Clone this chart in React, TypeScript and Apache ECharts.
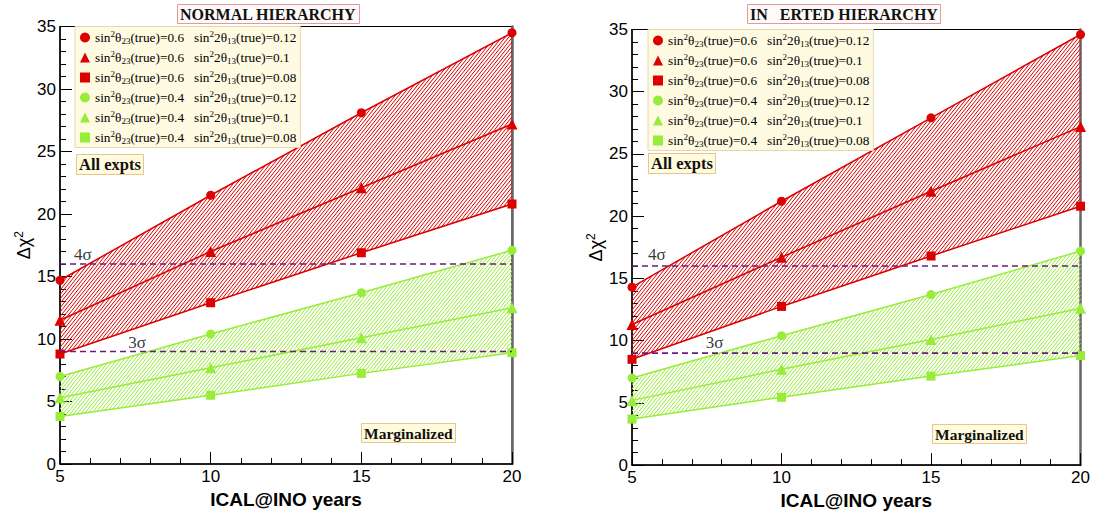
import React, { useEffect, useRef } from "react";
import * as echarts from "echarts";

// ICAL@INO exposure (years)
const years = [5, 10, 15, 20];

// Normal hierarchy, Δχ² per exposure
const nhRedCircle = [14.7, 21.5, 28.1, 34.5];
const nhRedTriangle = [11.5, 17.0, 22.1, 27.2];
const nhRedSquare = [8.8, 12.9, 16.9, 20.8];
const nhGreenCircle = [7.0, 10.4, 13.7, 17.1];
const nhGreenTriangle = [5.3, 7.7, 10.1, 12.5];
const nhGreenSquare = [3.8, 5.5, 7.25, 8.9];

// Inverted hierarchy, Δχ² per exposure
const ihRedCircle = [14.3, 21.2, 27.9, 34.6];
const ihRedTriangle = [11.3, 16.7, 22.0, 27.2];
const ihRedSquare = [8.5, 12.75, 16.8, 20.8];
const ihGreenCircle = [7.0, 10.4, 13.7, 17.2];
const ihGreenTriangle = [5.2, 7.7, 10.1, 12.6];
const ihGreenSquare = [3.7, 5.45, 7.15, 8.8];

// Legend entries
const th23Values = ["0.6", "0.6", "0.6", "0.4", "0.4", "0.4"];
const th13Values = ["0.12", "0.1", "0.08", "0.12", "0.1", "0.08"];
const seriesNames = th23Values.map((a, i) => `s23=${a} s13=${th13Values[i]}`);
const symbols = ["circle", "triangle", "rect", "circle", "triangle", "rect"];

// Significance thresholds
const sigmaLevels = [16, 9];
const sigmaNames = ["4σ", "3σ"];
const nhSigmaLabelPos = [[5.76, 16.8], [7.56, 9.76]];
const ihSigmaLabelPos = [[5.83, 16.96], [7.76, 9.84]];

const RED = "#dc0000";
const GREEN = "#98ec3a";
const PURPLE = "#6a1b7c";
const SERIF = "'Liberation Serif', 'Times New Roman', serif";
const SANS = "'Liberation Sans', Arial, sans-serif";

function posInterval(f: (x: number) => number, lo: number, hi: number): number[] | null {
  const fl = f(lo);
  const fh = f(hi);
  if (fl >= 0 && fh >= 0) return [lo, hi];
  if (fl < 0 && fh < 0) return null;
  const r = lo + ((hi - lo) * fl) / (fl - fh);
  return fl >= 0 ? [lo, r] : [r, hi];
}

// Hatched band between an upper and a lower curve
function hatchBand(xIdx: number, yIdx: number, top: number[], bot: number[], color: string) {
  return {
    type: "custom",
    xAxisIndex: xIdx,
    yAxisIndex: yIdx,
    silent: true,
    clip: false,
    z: 1,
    data: [[years[0], bot[0]]],
    renderItem: (_params: any, api: any) => {
      const T = years.map((x, i) => api.coord([x, top[i]]));
      const B = years.map((x, i) => api.coord([x, bot[i]]));
      const k = 1.25; // slope of hatch lines
      const step = 4.4;
      const sums = [...T, ...B].map((p) => p[1] + k * p[0]);
      const cMin = Math.min(...sums);
      const cMax = Math.max(...sums);
      const children: any[] = [];
      for (let c = Math.ceil(cMin / step) * step; c <= cMax; c += step) {
        for (let i = 0; i < T.length - 1; i++) {
          const x0 = T[i][0];
          const x1 = T[i + 1][0];
          const yT = (x: number) => T[i][1] + ((T[i + 1][1] - T[i][1]) * (x - x0)) / (x1 - x0);
          const yB = (x: number) => B[i][1] + ((B[i + 1][1] - B[i][1]) * (x - x0)) / (x1 - x0);
          const iv1 = posInterval((x) => c - k * x - yT(x), x0, x1);
          const iv2 = posInterval((x) => yB(x) - (c - k * x), x0, x1);
          if (!iv1 || !iv2) continue;
          const a = Math.max(iv1[0], iv2[0]);
          const b = Math.min(iv1[1], iv2[1]);
          if (b - a < 0.05) continue;
          children.push({
            type: "line",
            shape: { x1: a, y1: c - k * a, x2: b, y2: c - k * b },
            style: { stroke: color, lineWidth: 1 },
          });
        }
      }
      return { type: "group", children };
    },
  };
}

function panelSeries(xIdx: number, yIdx: number, sets: number[][], labelPos: number[][]) {
  const colors = [RED, RED, RED, GREEN, GREEN, GREEN];
  const out: any[] = [
    hatchBand(xIdx, yIdx, sets[0], sets[2], RED),
    hatchBand(xIdx, yIdx, sets[3], sets[5], GREEN),
  ];
  sets.forEach((vals, i) => {
    out.push({
      type: "line",
      name: seriesNames[i],
      xAxisIndex: xIdx,
      yAxisIndex: yIdx,
      data: years.map((x, j) => [x, vals[j]]),
      symbol: symbols[i],
      symbolSize: symbols[i] === "triangle" ? 11 : 9,
      lineStyle: { color: colors[i], width: 1.5 },
      itemStyle: { color: colors[i] },
      clip: false,
      z: 3,
    });
  });
  sigmaLevels.forEach((lvl, i) => {
    out.push({
      type: "line",
      xAxisIndex: xIdx,
      yAxisIndex: yIdx,
      data: [[years[0], lvl], [years[years.length - 1], lvl]],
      symbol: "none",
      lineStyle: { color: PURPLE, width: 1.6, type: [6, 4] },
      silent: true,
      z: 4,
    });
    out.push({
      type: "scatter",
      xAxisIndex: xIdx,
      yAxisIndex: yIdx,
      data: [labelPos[i]],
      symbolSize: 0,
      silent: true,
      label: {
        show: true,
        position: "inside",
        formatter: sigmaNames[i],
        fontFamily: SERIF,
        fontSize: 17,
        color: "#000",
      },
      z: 5,
    });
  });
  return out;
}

function xAxisCfg(gridIndex: number) {
  return {
    gridIndex,
    type: "value",
    min: 5,
    max: 20,
    interval: 5,
    axisLine: { onZero: false, lineStyle: { color: "#000", width: 1.5 } },
    axisTick: { inside: true, length: 12, lineStyle: { color: "#000", width: 1 } },
    minorTick: { show: true, splitNumber: 5, length: 6, lineStyle: { color: "#000", width: 1 } },
    splitLine: { show: false },
    axisLabel: { fontFamily: SANS, fontSize: 17, color: "#000", margin: 4 },
    name: "ICAL@INO years",
    nameLocation: "middle",
    nameGap: 24,
    nameTextStyle: { fontFamily: SANS, fontWeight: "bold", fontSize: 19, color: "#000" },
  };
}

function yAxisCfg(gridIndex: number) {
  return {
    gridIndex,
    type: "value",
    position: "left",
    min: 0,
    max: 35,
    interval: 5,
    axisLine: { show: true, onZero: false, lineStyle: { color: "#000", width: 1.5 } },
    axisTick: { inside: true, length: 12, lineStyle: { color: "#000", width: 1 } },
    minorTick: { show: true, splitNumber: 5, length: 6, lineStyle: { color: "#000", width: 1 } },
    splitLine: { show: false },
    axisLabel: { fontFamily: SANS, fontSize: 17, color: "#000", margin: 4 },
    name: "{a|Δχ}{b|2}",
    nameLocation: "middle",
    nameGap: 20,
    nameTextStyle: {
      fontFamily: SANS,
      fontSize: 18,
      color: "#000",
      rich: {
        a: { fontFamily: SANS, fontSize: 18, color: "#000", lineHeight: 22 },
        b: { fontFamily: SANS, fontSize: 12, color: "#000", verticalAlign: "top", lineHeight: 22 },
      },
    },
  };
}

function rightEdgeAxis(gridIndex: number) {
  return {
    gridIndex,
    type: "value",
    position: "right",
    min: 0,
    max: 35,
    axisLine: { show: true, onZero: false, lineStyle: { color: "#666", width: 2.5 } },
    axisTick: { show: false },
    axisLabel: { show: false },
    splitLine: { show: false },
  };
}

function legendCfg(left: number, top: number) {
  return {
    left,
    top,
    orient: "vertical",
    itemWidth: 10,
    itemHeight: 10,
    itemGap: 4,
    selectedMode: false,
    data: seriesNames.map((n, i) => ({ name: n, icon: symbols[i] })),
    formatter: (name: string) => {
      const i = seriesNames.indexOf(name);
      return `sin{sp|2}θ{sb|23}(true)=${th23Values[i]}   sin{sp|2}2θ{sb|13}(true)=${th13Values[i]}`;
    },
    textStyle: {
      fontFamily: SERIF,
      fontSize: 13.3,
      color: "#000",
      lineHeight: 16,
      rich: {
        sp: { fontFamily: SERIF, fontSize: 9, color: "#000", verticalAlign: "top" },
        sb: { fontFamily: SERIF, fontSize: 9, color: "#000", verticalAlign: "bottom" },
      },
    },
    backgroundColor: "#fffbe2",
    borderColor: "#e8d6a6",
    borderWidth: 1,
    padding: [3, 4, 2, 5],
  };
}

function boxTitle(text: string, left: number, top: number, size: number, bg: string, border: string) {
  return {
    text,
    left,
    top,
    padding: [2, 3, 1, 3],
    backgroundColor: bg,
    borderColor: border,
    borderWidth: 1,
    textStyle: {
      fontFamily: SERIF,
      fontWeight: "bold",
      fontSize: size,
      color: "#111",
      lineHeight: size + 1,
    },
  };
}

export default function App() {
  const ref = useRef<HTMLDivElement>(null);

  useEffect(() => {
    document.body.style.margin = "0";
    if (!ref.current) return;
    const chart = echarts.init(ref.current, null, { renderer: "svg" });
    const nhSets = [nhRedCircle, nhRedTriangle, nhRedSquare, nhGreenCircle, nhGreenTriangle, nhGreenSquare];
    const ihSets = [ihRedCircle, ihRedTriangle, ihRedSquare, ihGreenCircle, ihGreenTriangle, ihGreenSquare];
    chart.setOption({
      animation: false,
      backgroundColor: "#fff",
      title: [
        boxTitle("NORMAL HIERARCHY", 177, 4, 16, "#fffafa", "#e49a9a"),
        boxTitle("IN   ERTED HIERARCHY", 747, 4, 16, "#fffafa", "#e49a9a"),
        boxTitle("All expts", 76, 154, 16.5, "#fffbdc", "#e5c690"),
        boxTitle("All expts", 648, 153, 16.5, "#fffbdc", "#e5c690"),
        boxTitle("Marginalized", 361, 423, 15.5, "#fffbdc", "#e5c690"),
        boxTitle("Marginalized", 932, 424, 15.5, "#fffbdc", "#e5c690"),
      ],
      legend: [legendCfg(75, 26.5), legendCfg(648, 29.5)],
      grid: [
        { left: 60, top: 26.5, width: 452, height: 437.5, show: true, borderColor: "#000", borderWidth: 1, backgroundColor: "transparent" },
        { left: 632, top: 29.5, width: 451, height: 437.5, show: true, borderColor: "#000", borderWidth: 1, backgroundColor: "transparent" },
      ],
      xAxis: [xAxisCfg(0), xAxisCfg(1)],
      yAxis: [yAxisCfg(0), rightEdgeAxis(0), yAxisCfg(1), rightEdgeAxis(1)],
      series: [...panelSeries(0, 0, nhSets, nhSigmaLabelPos), ...panelSeries(1, 2, ihSets, ihSigmaLabelPos)],
    });
    return () => chart.dispose();
  }, []);

  return <div ref={ref} style={{ width: 1093, height: 515 }} />;
}
